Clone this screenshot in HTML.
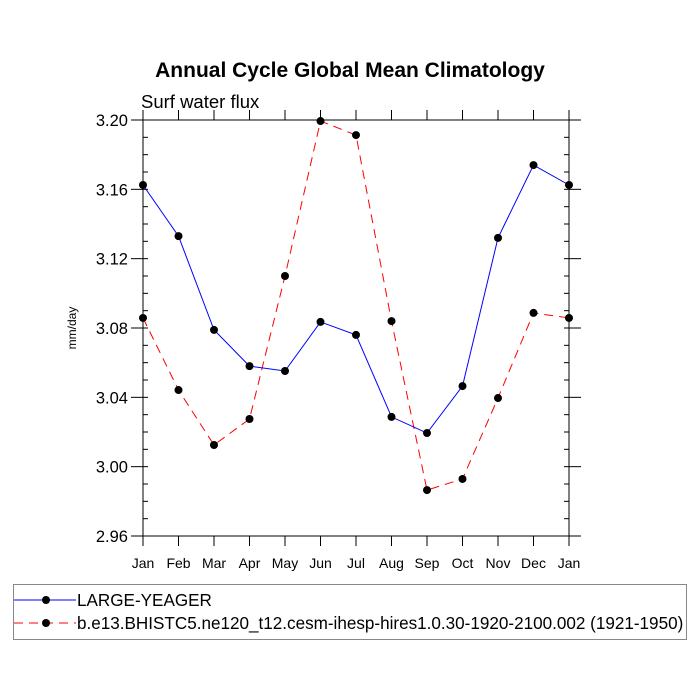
<!DOCTYPE html>
<html><head><meta charset="utf-8"><style>
body{margin:0;background:#fff}
svg{display:block;font-family:"Liberation Sans",sans-serif}
</style></head><body>
<svg id="c" width="700" height="700">
<text x="350" y="77" text-anchor="middle" font-size="21" font-weight="bold">Annual Cycle Global Mean Climatology</text>
<text x="141" y="108" font-size="18.5">Surf water flux</text>
<text transform="translate(76,328) rotate(-90)" text-anchor="middle" font-size="12">mm/day</text>
<g id="axes"></g>
<g id="series"></g>
<rect x="13.5" y="584.5" width="673" height="55" fill="none" stroke="#888"/>
<line x1="14" y1="600" x2="76" y2="600" stroke="#00f"/>
<circle cx="46" cy="600" r="4"/>
<text x="77" y="606" font-size="17.1">LARGE-YEAGER</text>
<line x1="14" y1="623" x2="76" y2="623" stroke="#f00" stroke-dasharray="9,6"/>
<circle cx="46" cy="623" r="4"/>
<text x="77" y="629" font-size="17.1">b.e13.BHISTC5.ne120_t12.cesm-ihesp-hires1.0.30-1920-2100.002 (1921-1950)</text>
</svg>
<script>
const months=["Jan","Feb","Mar","Apr","May","Jun","Jul","Aug","Sep","Oct","Nov","Dec","Jan"];
const blueVals=[3.1625,3.133,3.0789,3.058,3.0552,3.0835,3.076,3.0287,3.0194,3.0465,3.132,3.174,3.1625];
const redVals=[3.0858,3.0442,3.0125,3.0275,3.11,3.1994,3.1913,3.084,2.9865,2.9929,3.0396,3.0887,3.0858];
const yTicks=["2.96","3.00","3.04","3.08","3.12","3.16","3.20"];
const L=143,R=569,T=120,B=536,ymin=2.96,ymax=3.20;
const X=i=>L+(R-L)*i/(months.length-1);
const Y=v=>B-(v-ymin)/(ymax-ymin)*(B-T);
const NS="http://www.w3.org/2000/svg";
function mk(tag,at,parent){const e=document.createElementNS(NS,tag);for(const k in at)e.setAttribute(k,at[k]);parent.appendChild(e);return e;}
const ax=document.getElementById('axes'),sg=document.getElementById('series');
const frame=mk('rect',{x:L,y:T,width:R-L,height:B-T,fill:'none',stroke:'#000','stroke-width':1},ax);


months.forEach((m,i)=>{
  const x=X(i);
  mk('line',{x1:x,y1:B,x2:x,y2:B+10,stroke:'#000'},ax);
  mk('line',{x1:x,y1:T,x2:x,y2:T-10,stroke:'#000'},ax);
  const t=mk('text',{x:x,y:B+32,'text-anchor':'middle','font-size':14},ax);
  t.textContent=m;
  
  
});
for(let v=ymin;v<=ymax+1e-9;v+=0.01){
  const y=Y(v);
  mk('line',{x1:L,y1:y,x2:L+5,y2:y,stroke:'#000'},ax);
  mk('line',{x1:R,y1:y,x2:R-5,y2:y,stroke:'#000'},ax);
}
yTicks.forEach(s=>{
  const y=Y(parseFloat(s));
  mk('line',{x1:L,y1:y,x2:L-12,y2:y,stroke:'#000'},ax);
  mk('line',{x1:R,y1:y,x2:R+12,y2:y,stroke:'#000'},ax);
  const t=mk('text',{x:L-15,y:y+6,'text-anchor':'end','font-size':16.5},ax);
  t.textContent=s;
  
  
});
function series(vals,color,dash,name){
  const p=mk('polyline',{points:vals.map((v,i)=>X(i)+','+Y(v)).join(' '),fill:'none',stroke:color,'stroke-width':1,'stroke-dasharray':dash},sg);
  
  
  vals.forEach((v,i)=>{
    const c=mk('circle',{cx:X(i),cy:Y(v),r:4,fill:'#000'},sg);
    
    
  });
}
series(redVals,'#f00','9,6','hires');
series(blueVals,'#00f','none','large-yeager');
</script>
</body></html>
